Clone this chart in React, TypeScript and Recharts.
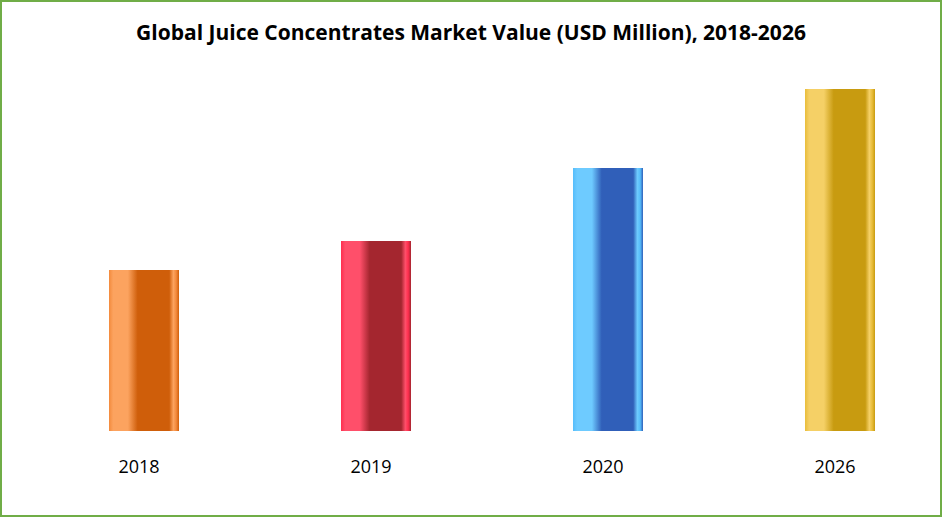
import { BarChart, Bar, XAxis, YAxis, Cell } from "recharts";

const YEARS = ["2018", "2019", "2020", "2026"];
const MARKET_VALUE = [1610, 1900, 2630, 3420];

// light, dark, edge
const BAR_COLORS = [
  { light: "#FCA35F", dark: "#CF5E0A", edge: "#F38A3C" },
  { light: "#FF4F6A", dark: "#A4262F", edge: "#FF2E4E" },
  { light: "#6ECBFF", dark: "#305FB9", edge: "#55BDFB" },
  { light: "#F5D066", dark: "#C89B10", edge: "#E9BD3A" },
];

const data = YEARS.map((year, i) => ({ year, value: MARKET_VALUE[i] }));

function YearTick({ x, y, payload }: any) {
  return (
    <text
      x={x - 5}
      y={y + 27}
      textAnchor="middle"
      dominantBaseline="central"
      fontFamily="'Open Sans', sans-serif"
      fontSize={18}
      fill="#000"
    >
      {payload.value}
    </text>
  );
}

export default function App() {
  return (
    <div
      style={{
        position: "absolute",
        left: 0,
        top: 0,
        width: 942,
        height: 517,
        overflow: "hidden",
        background: "#fff",
      }}
    >
      <div
        style={{
          position: "absolute",
          top: 18,
          left: 0,
          width: 942,
          textAlign: "center",
          fontFamily: "'Open Sans', sans-serif",
          fontWeight: 700,
          fontSize: 21,
          lineHeight: "normal",
          color: "#000",
        }}
      >
        Global Juice Concentrates Market Value (USD Million), 2018-2026
      </div>
      <BarChart
        width={956}
        height={517}
        data={data}
        margin={{ top: 31, right: 0, bottom: 30, left: 28 }}
      >
        <defs>
          {BAR_COLORS.map((c, i) => (
            <linearGradient key={i} id={`bar${i}`} x1="0" y1="0" x2="1" y2="0">
              <stop offset="0%" stopColor={c.edge} />
              <stop offset="6%" stopColor={c.light} />
              <stop offset="27%" stopColor={c.light} />
              <stop offset="41%" stopColor={c.dark} />
              <stop offset="86%" stopColor={c.dark} />
              <stop offset="92%" stopColor={c.light} />
              <stop offset="96%" stopColor={c.edge} />
              <stop offset="100%" stopColor={c.dark} />
            </linearGradient>
          ))}
        </defs>
        <XAxis
          dataKey="year"
          height={56}
          axisLine={false}
          tickLine={false}
          tick={<YearTick />}
          interval={0}
        />
        <YAxis hide domain={[0, 4000]} />
        <Bar dataKey="value" barSize={70} isAnimationActive={false}>
          {data.map((d, i) => (
            <Cell key={d.year} fill={`url(#bar${i})`} />
          ))}
        </Bar>
      </BarChart>
      <div
        style={{
          position: "absolute",
          inset: 0,
          border: "2px solid #70AD47",
          boxSizing: "border-box",
          pointerEvents: "none",
        }}
      />
    </div>
  );
}
